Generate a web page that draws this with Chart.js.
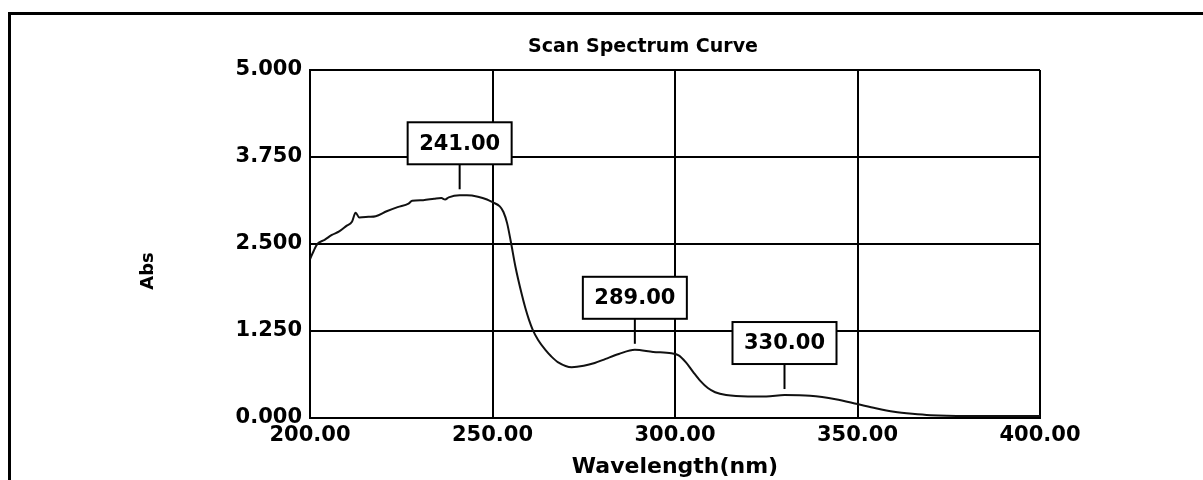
<!DOCTYPE html>
<html>
<head>
<meta charset="utf-8">
<title>Scan Spectrum Curve</title>
<script src="https://cdn.jsdelivr.net/npm/chart.js@4"></script>
<style>
  body { margin: 0; background: #fff; }
  #wrap { position: relative; width: 1203px; height: 480px; }
  #frame { position: absolute; left: 8px; top: 12px; right: 0; bottom: 0; border-top: 3px solid #000; border-left: 3px solid #000; }
  canvas { position: absolute; left: 0; top: 0; }
</style>
</head>
<body>
<div id="wrap">
  <div id="frame"></div>
  <canvas id="spectrum" width="1203" height="480"></canvas>
</div>
<script>
// Values (wavelength in nm, absorbance)
const wavelengths = [200, 201, 202, 204, 206, 208, 210, 211.5, 212.5, 213.5, 216, 218, 221, 224, 227, 228, 231, 234, 236, 237, 238, 241, 243, 246, 248.5, 250, 252, 253, 254, 255, 256.3, 258, 259, 260, 261, 262.5, 264.6, 266, 268, 271.7, 275, 278, 281, 284.6, 289, 294, 299, 301, 303, 305, 307, 309, 311, 314, 320, 325, 330, 337, 344, 350, 355, 360, 365, 370, 380, 390, 400];
const absorbance  = [2.28, 2.40, 2.50, 2.56, 2.63, 2.68, 2.76, 2.82, 2.95, 2.88, 2.89, 2.90, 2.97, 3.03, 3.08, 3.12, 3.13, 3.15, 3.16, 3.14, 3.17, 3.20, 3.20, 3.18, 3.14, 3.10, 3.04, 2.96, 2.80, 2.54, 2.17, 1.78, 1.58, 1.41, 1.27, 1.12, 0.97, 0.89, 0.80, 0.73, 0.75, 0.79, 0.85, 0.92, 0.98, 0.95, 0.93, 0.90, 0.80, 0.66, 0.53, 0.43, 0.37, 0.33, 0.31, 0.31, 0.33, 0.32, 0.27, 0.20, 0.14, 0.09, 0.06, 0.04, 0.03, 0.03, 0.03];
const xTicks = [200, 250, 300, 350, 400];
const yTicks = [0, 1.25, 2.5, 3.75, 5];
const peakLabels = [241, 289, 330];

Chart.defaults.font.family = '"DejaVu Sans", Verdana, sans-serif';
Chart.defaults.color = '#000';

// Title, y label and the boxed peak markers
const printoutDecor = {
    id: 'printoutDecor',
    afterDatasetsDraw(chart) {
        const { ctx, scales: { x, y } } = chart;
        ctx.save();
        ctx.fillStyle = '#000';
        ctx.textAlign = 'center';
        ctx.textBaseline = 'middle';

        ctx.font = 'bold 19px "DejaVu Sans"';
        ctx.fillText('Scan Spectrum Curve', 643, 47);

        ctx.save();
        ctx.translate(148, 271);
        ctx.rotate(-Math.PI / 2);
        ctx.font = 'bold 18px "DejaVu Sans"';
        ctx.fillText('Abs', 0, 0);
        ctx.restore();

        ctx.font = 'bold 21px "DejaVu Sans"';
        ctx.lineWidth = 2;
        ctx.strokeStyle = '#000';
        peakLabels.forEach(nm => {
            const i = wavelengths.indexOf(nm);
            const px = x.getPixelForValue(nm);
            const py = y.getPixelForValue(absorbance[i]);
            const boxBottom = py - 31;
            const boxTop = boxBottom - 42;
            ctx.fillStyle = '#fff';
            ctx.fillRect(px - 52, boxTop, 104, 42);
            ctx.strokeRect(px - 52, boxTop, 104, 42);
            ctx.beginPath();
            ctx.moveTo(px, boxBottom);
            ctx.lineTo(px, py - 6);
            ctx.stroke();
            ctx.fillStyle = '#000';
            ctx.fillText(nm.toFixed(2), px, boxTop + 22);
        });
        ctx.restore();
    }
};

const ctx = document.getElementById('spectrum').getContext('2d');
new Chart(ctx, {
    type: 'line',
    data: {
        datasets: [{
            label: 'Abs',
            data: wavelengths.map((w, i) => ({ x: w, y: absorbance[i] })),
            borderColor: '#111',
            borderWidth: 2,
            pointRadius: 0,
            cubicInterpolationMode: 'monotone'
        }]
    },
    options: {
        responsive: false,
        animation: false,
        devicePixelRatio: 1,
        layout: { padding: { top: 70, left: 128, right: 163, bottom: 0 } },
        plugins: {
            legend: { display: false },
            tooltip: { enabled: false }
        },
        scales: {
            x: {
                type: 'linear',
                min: 200,
                max: 400,
                afterBuildTicks: scale => { scale.ticks = xTicks.map(v => ({ value: v })); },
                afterFit: scale => { scale.height = 62; },
                grid: { color: '#000', lineWidth: 2, drawTicks: false },
                border: { color: '#000', width: 2 },
                ticks: {
                    padding: 5,
                    maxRotation: 0,
                    font: { size: 21, weight: 'bold' },
                    callback: v => v.toFixed(2)
                },
                title: {
                    display: true,
                    text: 'Wavelength(nm)',
                    font: { size: 22, weight: 'bold' },
                    padding: { top: 0, bottom: 0 }
                }
            },
            y: {
                min: 0,
                max: 5,
                afterBuildTicks: scale => { scale.ticks = yTicks.map(v => ({ value: v })); },
                afterFit: scale => { scale.width = 182; },
                grid: { color: '#000', lineWidth: 2, drawTicks: false },
                border: { color: '#000', width: 2 },
                ticks: {
                    padding: 8,
                    font: { size: 21, weight: 'bold' },
                    callback: v => v.toFixed(3)
                }
            }
        }
    },
    plugins: [printoutDecor]
});
</script>
</body>
</html>
